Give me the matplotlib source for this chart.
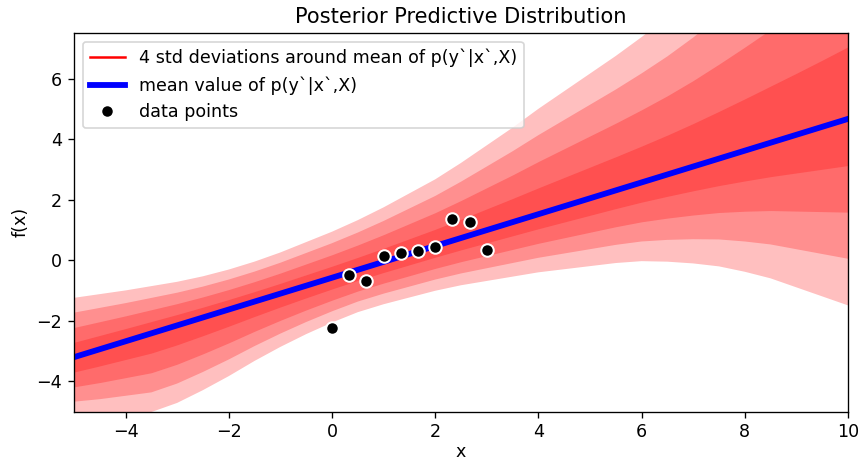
import numpy as np
import matplotlib
matplotlib.use("Agg")
import matplotlib.pyplot as plt

x_grid = [-5, -4.5, -4, -3.5, -3, -2.5, -2, -1.5, -1, -0.5, 0, 0.5, 1, 1.5, 2, 2.5,
          3, 3.5, 4, 4.5, 5, 5.5, 6, 6.5, 7, 7.5, 8, 8.5, 9, 9.5, 10]
# mean of p(y`|x`,X) (straight line)
mean_ends = [-3.20, 4.67]
# one std step above / below the mean (the bands are not symmetric)
std_up = [0.49, 0.455, 0.42, 0.39, 0.36, 0.34, 0.33, 0.33, 0.34, 0.36, 0.38,
          0.41, 0.45, 0.50, 0.55, 0.62, 0.70, 0.78, 0.87, 0.95, 1.03, 1.11,
          1.20, 1.30, 1.42, 1.56, 1.71, 1.87, 2.03, 2.20, 2.38]
std_down = [0.49, 0.55, 0.60, 0.65, 0.64, 0.60, 0.55, 0.49, 0.44, 0.40, 0.37,
            0.35, 0.35, 0.36, 0.37, 0.39, 0.42, 0.45, 0.48, 0.52, 0.56, 0.60,
            0.65, 0.72, 0.80, 0.89, 1.00, 1.12, 1.26, 1.40, 1.54]

x_data = [0.0, 0.333, 0.667, 1.0, 1.333, 1.667, 2.0, 2.333, 2.667, 3.0]
y_data = [-2.25, -0.50, -0.69, 0.14, 0.24, 0.30, 0.43, 1.35, 1.25, 0.34]

x_grid = np.array(x_grid)
mean_y = np.interp(x_grid, [x_grid[0], x_grid[-1]], mean_ends)
std_up = np.array(std_up)
std_down = np.array(std_down)

plt.rcParams['font.size'] = 10.5

fig = plt.figure(figsize=(859 / 120, 461 / 120), dpi=120)
ax = fig.add_axes([0.0861, 0.107, 0.9011, 0.821])

for k in range(1, 5):
    ax.fill_between(x_grid, mean_y - k * std_down, mean_y + k * std_up,
                    color='red', alpha=0.25, linewidth=0)

ax.plot([], [], color='red', linewidth=1.5,
        label='4 std deviations around mean of p(y`|x`,X)')
ax.plot(x_grid, mean_y, color='blue', linewidth=3.5,
        label='mean value of p(y`|x`,X)')
ax.plot(x_data, y_data, 'o', color='black', markersize=7.5,
        markeredgecolor='white', markeredgewidth=1.2, label='data points')

ax.set_xlim(-5, 10)
ax.set_ylim(-5, 7.5)
ax.set_xlabel('x', labelpad=1)
ax.set_ylabel('f(x)')
ax.set_title('Posterior Predictive Distribution')
ax.legend(loc='upper left')

fig.savefig('out.png', dpi=120)
